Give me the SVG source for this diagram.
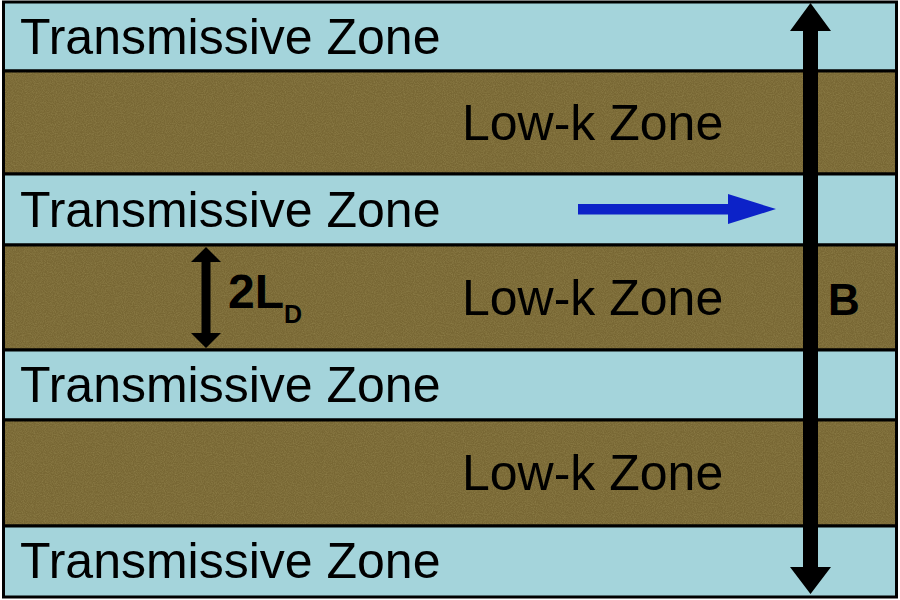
<svg xmlns="http://www.w3.org/2000/svg" width="900" height="600" viewBox="0 0 900 600">
  <defs>
    <style>
      .trans { fill: #A4D4DB; stroke: #000; stroke-width: 3; }
      .lowk { fill: #786734; stroke: #000; stroke-width: 3; }
      .lbl { font-family: "Liberation Sans", Arial, sans-serif; font-size: 50px; fill: #000; }
      .bold { font-family: "Liberation Sans", Arial, sans-serif; font-weight: bold; fill: #000; }
    </style>
    <filter id="grain" x="0" y="0" width="100%" height="100%">
      <feTurbulence type="fractalNoise" baseFrequency="0.9" numOctaves="2" seed="3" result="n"/>
      <feColorMatrix in="n" type="matrix" values="0 0 0 0 0.55  0 0 0 0 0.48  0 0 0 0 0.2  0 0 0 0.9 -0.3" result="c"/>
      <feComposite in="c" in2="SourceGraphic" operator="in"/>
    </filter>
  </defs>

  <rect x="0" y="0" width="900" height="600" fill="#ffffff"/>

  <g id="zone-t1">
    <rect class="trans" x="3.5" y="2" width="893" height="69"/>
    <text class="lbl" x="20" y="54">Transmissive Zone</text>
  </g>
  <g id="zone-l1">
    <rect class="lowk" x="3.5" y="71" width="893" height="103"/>
    <rect x="5" y="72.5" width="890" height="100" fill="#786734" filter="url(#grain)" opacity="0.5"/>
    <text class="lbl" x="462" y="140">Low-k Zone</text>
  </g>
  <g id="zone-t2">
    <rect class="trans" x="3.5" y="174" width="893" height="71"/>
    <text class="lbl" x="20" y="227">Transmissive Zone</text>
  </g>
  <g id="zone-l2">
    <rect class="lowk" x="3.5" y="245" width="893" height="105"/>
    <rect x="5" y="246.5" width="890" height="102" fill="#786734" filter="url(#grain)" opacity="0.5"/>
    <text class="lbl" x="462" y="315">Low-k Zone</text>
  </g>
  <g id="zone-t3">
    <rect class="trans" x="3.5" y="350" width="893" height="70"/>
    <text class="lbl" x="20" y="402">Transmissive Zone</text>
  </g>
  <g id="zone-l3">
    <rect class="lowk" x="3.5" y="420" width="893" height="106"/>
    <rect x="5" y="421.5" width="890" height="103" fill="#786734" filter="url(#grain)" opacity="0.5"/>
    <text class="lbl" x="462" y="490">Low-k Zone</text>
  </g>
  <g id="zone-t4">
    <rect class="trans" x="3.5" y="526" width="893" height="71"/>
    <text class="lbl" x="20" y="578">Transmissive Zone</text>
  </g>

  <g id="connectors">
    <!-- B double arrow -->
    <polygon points="810.5,3 831,31 818,31 818,567 831,567 810.5,594 790,567 803,567 803,31 790,31" fill="#000"/>
    <!-- 2L_D double arrow -->
    <polygon points="206,247 221,262 210.5,262 210.5,333 221,333 206,348 191,333 201.5,333 201.5,262 191,262" fill="#000"/>
    <!-- blue flow arrow -->
    <polygon points="578,204 728,204 728,194 776,209 728,224 728,214.5 578,214.5" fill="#0C22C8"/>
  </g>

  <g id="labels">
    <text class="bold" x="828" y="315" font-size="44">B</text>
    <text class="bold" x="228" y="308" font-size="48">2L<tspan font-size="25" dy="15">D</tspan></text>
  </g>
</svg>
